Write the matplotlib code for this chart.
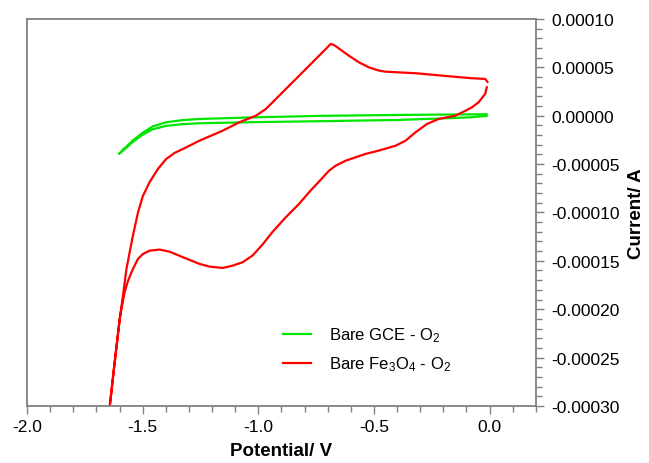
import matplotlib
matplotlib.use("Agg")
import matplotlib.pyplot as plt
from matplotlib.ticker import MultipleLocator, FormatStrFormatter, FuncFormatter

plt.rcParams['font.family'] = ['Liberation Sans', 'DejaVu Sans']
plt.rcParams['mathtext.fontset'] = 'custom'
plt.rcParams['mathtext.rm'] = 'Liberation Sans'
plt.rcParams['mathtext.it'] = 'Liberation Sans:italic'

# Bare GCE in O2: upper branch out to the turning point, lower branch back
gce_potential = [-0.013, -0.392, -0.737, -1.0, -1.254, -1.33, -1.398, -1.456, -1.499,
                 -1.542, -1.570, -1.585, -1.602,
                 -1.57, -1.542, -1.499, -1.456, -1.398, -1.33, -1.254, -1.0, -0.737,
                 -0.392, -0.09, -0.013]
gce_current = [1.5e-6, 0.8e-6, -0.2e-6, -1.6e-6, -3.4e-6, -4.6e-6, -6.8e-6, -1.1e-5, -1.75e-5,
               -2.55e-5, -3.2e-5, -3.5e-5, -3.95e-5,
               -3.3e-5, -2.7e-5, -1.95e-5, -1.4e-5, -1.05e-5, -8.8e-6, -7.8e-6, -6.6e-6, -5.7e-6,
               -4.4e-6, -1.8e-6, -3e-7]

# Bare Fe3O4 in O2: cathodic sweep
fe_cath_potential = [-0.012, -0.019, -0.047, -0.076, -0.105, -0.148, -0.220, -0.270, -0.320,
                     -0.363, -0.406, -0.478, -0.536, -0.622, -0.665, -0.694, -0.737, -0.780,
                     -0.823, -0.881, -0.938, -0.981, -1.025, -1.068, -1.111, -1.154, -1.211,
                     -1.254, -1.326, -1.384, -1.427, -1.470, -1.499, -1.520, -1.542, -1.563,
                     -1.578, -1.592, -1.599, -1.621, -1.642, -1.655]
fe_cath_current = [2.94e-5, 2.25e-5, 1.4e-5, 8.7e-6, 5e-6, 0.0, -3.4e-6, -8.5e-6, -1.71e-5,
                   -2.58e-5, -3.1e-5, -3.6e-5, -3.95e-5, -4.65e-5, -5.16e-5, -5.68e-5, -6.8e-5, -7.9e-5,
                   -9.1e-5, -1.05e-4, -1.2e-4, -1.33e-4, -1.446e-4, -1.515e-4, -1.55e-4, -1.574e-4, -1.56e-4,
                   -1.532e-4, -1.463e-4, -1.405e-4, -1.384e-4, -1.395e-4, -1.43e-4, -1.48e-4, -1.584e-4, -1.705e-4,
                   -1.825e-4, -2.0e-4, -2.1e-4, -2.55e-4, -3.0e-4, -3.2e-4]

# Bare Fe3O4 in O2: anodic sweep
fe_anod_potential = [-1.642, -1.621, -1.599, -1.585, -1.570, -1.556, -1.542, -1.520, -1.499,
                     -1.470, -1.434, -1.398, -1.362, -1.326, -1.254, -1.154, -1.082, -1.010,
                     -0.967, -0.938, -0.881, -0.823, -0.751, -0.708, -0.687, -0.672, -0.608,
                     -0.565, -0.522, -0.478, -0.450, -0.320, -0.177, -0.076, -0.019, -0.009]
fe_anod_current = [-3.0e-4, -2.55e-4, -2.1e-4, -1.86e-4, -1.584e-4, -1.41e-4, -1.24e-4, -1.0e-4, -8.3e-5,
                   -6.88e-5, -5.5e-5, -4.47e-5, -3.85e-5, -3.44e-5, -2.58e-5, -1.55e-5, -6.8e-6, 0.0,
                   7e-6, 1.39e-5, 2.76e-5, 4.14e-5, 5.87e-5, 6.9e-5, 7.42e-5, 7.3e-5, 6.2e-5,
                   5.52e-5, 5.0e-5, 4.66e-5, 4.55e-5, 4.39e-5, 4.08e-5, 3.87e-5, 3.8e-5, 3.5e-5]

fe_potential = fe_cath_potential + fe_anod_potential
fe_current = fe_cath_current + fe_anod_current

fig = plt.figure(figsize=(6.49, 4.64), dpi=100)
ax = fig.add_axes([0.0416, 0.123, 0.784, 0.834])

ax.plot(gce_potential, gce_current, color='#00e600', lw=1.6, label='Bare GCE - O$_2$')
ax.plot(fe_potential, fe_current, color='#ff0000', lw=1.6, label='Bare Fe$_3$O$_4$ - O$_2$')

ax.set_xlim(-2.0, 0.2)
ax.set_ylim(-0.0003, 0.0001)

def current_fmt(v, pos):
    if abs(v) < 1e-12:
        v = 0.0
    return '%.5f' % v

ax.xaxis.set_major_locator(MultipleLocator(0.5))
ax.xaxis.set_minor_locator(MultipleLocator(0.1))
ax.xaxis.set_major_formatter(FormatStrFormatter('%.1f'))
ax.yaxis.set_major_locator(MultipleLocator(0.00005))
ax.yaxis.set_minor_locator(MultipleLocator(0.00001))
ax.yaxis.set_major_formatter(FuncFormatter(current_fmt))

ax.yaxis.tick_right()
ax.yaxis.set_label_position('right')

for s in ax.spines.values():
    s.set_color('#808080')
    s.set_linewidth(1.3)

ax.tick_params(which='both', direction='out', color='#808080', labelsize=12.5)
ax.tick_params(which='major', length=6, width=1.0)
ax.tick_params(which='minor', length=4, width=1.0)
ax.tick_params(axis='y', which='both', left=False, right=True, pad=5)

ax.set_xlabel('Potential/ V', fontsize=13.5, fontweight='bold', labelpad=6)
ax.set_ylabel('Current/ A', fontsize=13.5, fontweight='bold', labelpad=6)

ax.legend(loc='lower left', bbox_to_anchor=(0.474, 0.046), frameon=False, fontsize=12,
          handlelength=1.65, handletextpad=1.1, labelspacing=0.6)

fig.savefig('out.png', dpi=100)
